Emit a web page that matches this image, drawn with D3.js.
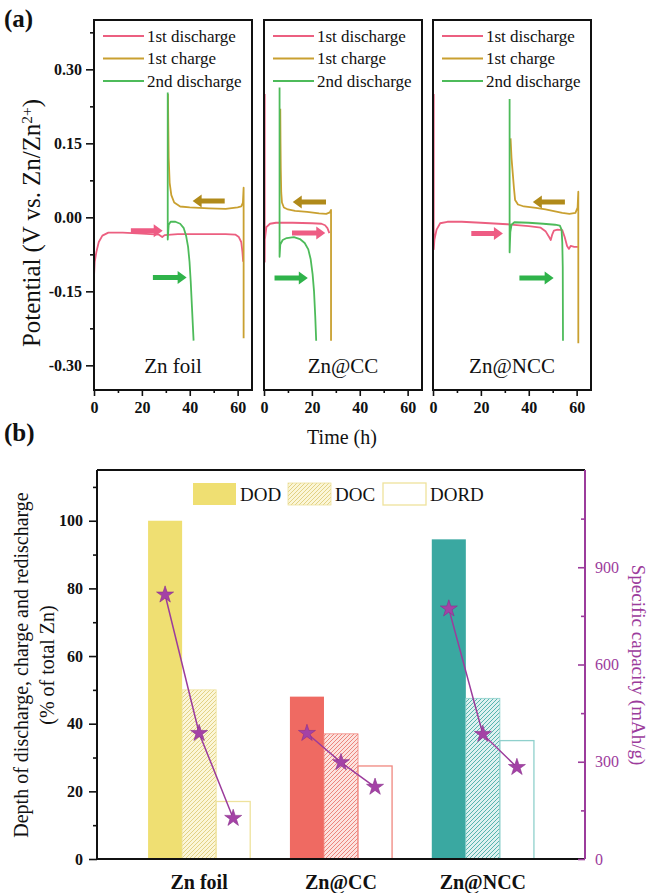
<!DOCTYPE html>
<html>
<head>
<meta charset="utf-8">
<script src="https://cdn.jsdelivr.net/npm/d3@7"></script>
<style>
  body { margin: 0; background: #fff; }
  svg { display: block; }
  text { font-family: "Liberation Serif", "Times New Roman", serif; fill: #111; }
</style>
</head>
<body>
<svg id="chart" width="650" height="893"></svg>
<script>
// ---------- panel (a) data : time (h), potential (V) ----------
const cells = ["Zn foil", "Zn@CC", "Zn@NCC"];
const seriesNames = ["1st discharge", "1st charge", "2nd discharge"];

const firstDischarge = [
  [[0,0.25],[0,-0.12],[0.3,-0.09],[1,-0.07],[2,-0.05],[3.5,-0.037],[6,-0.031],[12,-0.031],[20,-0.033],[27,-0.035],
   [28.5,-0.04],[29.5,-0.036],[35,-0.034],[45,-0.034],[55,-0.034],[59,-0.035],[60.5,-0.04],[61.5,-0.05],[62,-0.07],[62.3,-0.09]],
  [[0.3,0.25],[0.3,-0.09],[0.35,-0.045],[1,-0.02],[2.5,-0.013],[5,-0.011],[12,-0.011],[20,-0.012],[24,-0.013],
   [25.5,-0.016],[26.5,-0.022],[27.3,-0.032]],
  [[0.3,0.25],[0.3,-0.065],[0.6,-0.045],[1.5,-0.025],[3,-0.012],[6,-0.009],[12,-0.009],[20,-0.011],[31,-0.014],[40,-0.018],
   [45,-0.021],[47,-0.028],[48.5,-0.04],[49.2,-0.046],[49.8,-0.035],[50.5,-0.027],[52,-0.025],[54,-0.026],[55,-0.04],
   [56,-0.058],[56.8,-0.064],[57.5,-0.058],[59,-0.06],[60.5,-0.06]]
];

const firstCharge = [
  [[62.5,-0.245],[62.5,0.06],[62.2,0.03],[61.5,0.022],[60,0.02],[55,0.017],[48,0.018],[40,0.02],[36,0.022],[33.5,0.03],
   [32.3,0.045],[31.6,0.07],[31.2,0.12],[31,0.2],[30.9,0.25]],
  [[28,-0.25],[28,0.015],[27.5,0.01],[26,0.007],[23,0.008],[18,0.011],[13,0.013],[10,0.016],[8.3,0.02],[7.5,0.03],
   [7.2,0.05],[7,0.1],[6.9,0.15],[6.8,0.22]],
  [[60.7,-0.255],[60.7,0.052],[60.4,0.02],[59.5,0.009],[57,0.007],[54,0.009],[51,0.012],[47,0.016],[43,0.019],[38,0.022],
   [35.5,0.026],[34.3,0.035],[33.8,0.06],[33.3,0.09],[32.8,0.12],[32.4,0.16]]
];

const secondDischarge = [
  [[30.8,0.253],[30.8,-0.045],[31.2,-0.015],[32,-0.009],[34,-0.009],[36,-0.013],[37.5,-0.022],[38.5,-0.038],[39.3,-0.06],
   [39.9,-0.09],[40.4,-0.13],[40.9,-0.18],[41.3,-0.22],[41.6,-0.25]],
  [[6.5,0.263],[6.5,-0.08],[6.8,-0.055],[7.8,-0.046],[9.5,-0.042],[12.5,-0.04],[15,-0.044],[17,-0.052],[18.5,-0.065],
   [19.5,-0.085],[20.3,-0.115],[20.9,-0.15],[21.4,-0.2],[21.8,-0.25]],
  [[32,0.24],[32,-0.071],[32.3,-0.03],[32.8,-0.015],[34,-0.01],[40,-0.011],[46,-0.013],[51,-0.015],[53,-0.017],
   [53.7,-0.025],[54,-0.05],[54.2,-0.1],[54.3,-0.25]]
];

// arrows: [from t, to t, potential] for discharge / charge / 2nd discharge
const arrowsA = [
  [[15.4,28.7,-0.027],[54.6,41.2,0.033],[24.6,38.7,-0.122]],
  [[11.7,25.6,-0.032],[25.9,12,0.031],[4.4,18.3,-0.123]],
  [[16,29.2,-0.033],[55.1,41.7,0.031],[36.1,50.4,-0.123]]
];

const timeTicks = [0, 20, 40, 60];
const timeMinor = [10, 30, 50];
const potTicks = [-0.3, -0.15, 0, 0.15, 0.3];
const potMinor = [-0.225, -0.075, 0.075, 0.225, 0.375];

// ---------- panel (b) data ----------
const materials = ["Zn foil", "Zn@CC", "Zn@NCC"];
const metrics = ["DOD", "DOC", "DORD"];
const dod = [100, 48, 94.5];
const doc = [50, 37, 47.5];
const dord = [17, 27.5, 35];
const capacity = [[815, 388, 126], [388, 298, 222], [772, 385, 283]];
const depthTicks = [0, 20, 40, 60, 80, 100];
const depthMinor = [10, 30, 50, 70, 90, 110];
const capTicks = [0, 300, 600, 900];
const capMinor = [150, 450, 750, 1050];

const lineColors = ["#ec5f80", "#c9a030", "#4dbb5a"];
const arrowColors = ["#ee5c84", "#b08a1a", "#2fb34a"];
const matColors = [
  {solid: "#efdf72", bg: "#fbf6d8", hatch: "#e2d184", border: "#eee29c"},
  {solid: "#ef6a62", bg: "#fce3df", hatch: "#ec857c", border: "#f0877f"},
  {solid: "#3aa8a1", bg: "#dff1f0", hatch: "#56b4ae", border: "#8fd0cc"}
];
const purple = "#9c3c9c";
const serif = "'Liberation Serif', 'Times New Roman', serif";

const svg = d3.select("#chart");
const defs = svg.append("defs");

matColors.forEach((c, i) => {
  const p = defs.append("pattern").attr("id", "hatch" + i)
    .attr("patternUnits", "userSpaceOnUse").attr("width", 4).attr("height", 4);
  p.append("rect").attr("width", 4).attr("height", 4).attr("fill", c.bg);
  p.append("path").attr("d", "M0,4 L4,0 M-1,1 L1,-1 M3,5 L5,3")
    .attr("stroke", c.hatch).attr("stroke-width", 1);
});

// ================= panel (a) =================
const cellLeft = [94, 264, 433];
const cellW = 158;
const aTop = 20, aBottom = 390;
const y = d3.scaleLinear().domain([-0.35, 0.40]).range([aBottom, aTop]);
const line = d3.line();

cells.forEach((name, i) => {
  const x = d3.scaleLinear().domain([0, 66]).range([cellLeft[i], cellLeft[i] + cellW]);
  const g = svg.append("g");
  const lineFn = d3.line().x(d => x(d[0])).y(d => y(d[1]));

  // curves
  [firstDischarge[i], firstCharge[i], secondDischarge[i]].forEach((pts, k) => {
    g.append("path").attr("d", lineFn(pts)).attr("fill", "none")
      .attr("stroke", lineColors[k]).attr("stroke-width", 1.8).attr("stroke-linejoin", "round");
  });

  // arrows
  arrowsA[i].forEach((a, k) => {
    const x1 = x(a[0]), x2 = x(a[1]), yy = y(a[2]);
    const dir = x2 > x1 ? 1 : -1;
    const hx = x2 - dir * 9;
    const d = `M${x1},${yy - 2.5}L${hx},${yy - 2.5}L${hx},${yy - 6.5}L${x2},${yy}L${hx},${yy + 6.5}L${hx},${yy + 2.5}L${x1},${yy + 2.5}Z`;
    g.append("path").attr("d", d).attr("fill", arrowColors[k]);
  });

  // frame
  g.append("rect").attr("x", x(0)).attr("y", aTop).attr("width", cellW).attr("height", aBottom - aTop)
    .attr("fill", "none").attr("stroke", "#111").attr("stroke-width", 2);

  // x axis
  g.append("g").attr("transform", `translate(0,${aBottom})`)
    .call(d3.axisBottom(x).tickValues(timeTicks).tickSize(6).tickPadding(6).tickFormat(d3.format("d")));
  g.append("g").attr("transform", `translate(0,${aBottom})`)
    .call(d3.axisBottom(x).tickValues(timeMinor).tickSize(3).tickFormat(""));

  if (i === 0) {
    g.append("g").attr("transform", `translate(${x(0)},0)`)
      .call(d3.axisLeft(y).tickValues(potTicks).tickSize(8).tickPadding(4).tickFormat(d => d.toFixed(2)));
    g.append("g").attr("transform", `translate(${x(0)},0)`)
      .call(d3.axisLeft(y).tickValues(potMinor).tickSize(4).tickFormat(""));
  }

  // legend
  seriesNames.forEach((s, k) => {
    const ly = 36 + k * 22.5;
    g.append("line").attr("x1", x(0) + 9).attr("x2", x(0) + 50).attr("y1", ly).attr("y2", ly)
      .attr("stroke", lineColors[k]).attr("stroke-width", 2);
    g.append("text").attr("x", x(0) + 53).attr("y", ly + 5.5).attr("font-size", 17).text(s);
  });

  // sample label
  g.append("text").attr("x", x(0) + cellW / 2).attr("y", 373).attr("text-anchor", "middle")
    .attr("font-size", 21).text(name);
});

svg.selectAll(".domain").remove();
svg.selectAll(".tick line").attr("stroke", "#111").attr("stroke-width", 1.6);
svg.selectAll(".tick text").attr("font-size", 16).attr("font-weight", "bold")
  .attr("font-family", serif).attr("fill", "#111");

// y label (a): fitted to the span the reference shows
const yl = svg.append("text").attr("transform", "translate(40,347) rotate(-90)")
  .attr("text-anchor", "start").attr("font-size", 21);
yl.append("tspan").text("Potential (V vs. Zn/Zn");
const sup = yl.append("tspan").attr("dy", -8).attr("font-size", 13).text("2+");
yl.append("tspan").attr("dy", 8).text(")");
const ylLen = yl.node().getComputedTextLength();
if (ylLen > 0) {
  const fs = 21 * 248 / ylLen;
  yl.attr("font-size", fs);
  sup.attr("font-size", fs * 0.62);
}

svg.append("text").attr("x", 342).attr("y", 444).attr("text-anchor", "middle")
  .attr("font-size", 20).text("Time (h)");

svg.append("text").attr("x", 4).attr("y", 27).attr("font-size", 25).attr("font-weight", "bold").text("(a)");
svg.append("text").attr("x", 4).attr("y", 441).attr("font-size", 25).attr("font-weight", "bold").text("(b)");

// ================= panel (b) =================
const bLeft = 97, bRight = 585, bTop = 470, bBottom = 859;
const x0 = d3.scaleBand().domain(materials).range([bLeft, bRight]).paddingInner(0.28).paddingOuter(0.36);
const x1 = d3.scaleBand().domain(metrics).range([0, x0.bandwidth()]);
const yL = d3.scaleLinear().domain([0, 115]).range([bBottom, bTop]);
const yR = d3.scaleLinear().domain([0, 1200]).range([bBottom, bTop]);
const gb = svg.append("g");

const valuesBy = [dod, doc, dord];
materials.forEach((m, i) => {
  metrics.forEach((k, j) => {
    const v = valuesBy[j][i];
    const r = gb.append("rect")
      .attr("x", x0(m) + x1(k)).attr("width", x1.bandwidth())
      .attr("y", yL(v)).attr("height", yL(0) - yL(v));
    if (j === 0) r.attr("fill", matColors[i].solid);
    else if (j === 1) r.attr("fill", `url(#hatch${i})`).attr("stroke", matColors[i].border).attr("stroke-width", 0.8);
    else r.attr("fill", "#fff").attr("stroke", matColors[i].border).attr("stroke-width", 1.3);
  });
});

// capacity lines + stars
const star = d3.symbol().type(d3.symbolStar).size(90);
materials.forEach((m, i) => {
  const pts = metrics.map((k, j) => [x0(m) + x1(k) + x1.bandwidth() / 2, yR(capacity[i][j])]);
  gb.append("path").attr("d", line(pts)).attr("fill", "none").attr("stroke", purple).attr("stroke-width", 1.5);
  pts.forEach(p => {
    gb.append("path").attr("d", star()).attr("transform", `translate(${p[0]},${p[1]})`)
      .attr("fill", "#a442a6").attr("stroke", "#8a2f8c").attr("stroke-width", 0.6);
  });
});

// frame
gb.append("line").attr("x1", bLeft).attr("x2", bRight).attr("y1", bTop).attr("y2", bTop).attr("stroke", "#111").attr("stroke-width", 2);
gb.append("line").attr("x1", bLeft).attr("x2", bRight).attr("y1", bBottom).attr("y2", bBottom).attr("stroke", "#111").attr("stroke-width", 2);
gb.append("line").attr("x1", bLeft).attr("x2", bLeft).attr("y1", bTop).attr("y2", bBottom).attr("stroke", "#111").attr("stroke-width", 2);
gb.append("line").attr("x1", bRight).attr("x2", bRight).attr("y1", bTop).attr("y2", bBottom).attr("stroke", purple).attr("stroke-width", 2);

const axL = gb.append("g").attr("transform", `translate(${bLeft},0)`)
  .call(d3.axisLeft(yL).tickValues(depthTicks).tickSize(8).tickPadding(6).tickFormat(d3.format("d")));
const axLm = gb.append("g").attr("transform", `translate(${bLeft},0)`)
  .call(d3.axisLeft(yL).tickValues(depthMinor.filter(v => v < 115)).tickSize(4).tickFormat(""));
[axL, axLm].forEach(a => {
  a.select(".domain").remove();
  a.selectAll(".tick line").attr("stroke", "#111").attr("stroke-width", 1.6);
  a.selectAll(".tick text").attr("font-size", 16).attr("font-weight", "bold").attr("fill", "#111")
    .attr("font-family", serif);
});

const axR = gb.append("g").attr("transform", `translate(${bRight},0)`)
  .call(d3.axisRight(yR).tickValues(capTicks).tickSize(-7).tickPadding(10).tickFormat(d3.format("d")));
const axRm = gb.append("g").attr("transform", `translate(${bRight},0)`)
  .call(d3.axisRight(yR).tickValues(capMinor).tickSize(-4).tickFormat(""));
[axR, axRm].forEach(a => {
  a.select(".domain").remove();
  a.selectAll(".tick line").attr("stroke", purple).attr("stroke-width", 1.6);
  a.selectAll(".tick text").attr("font-size", 16).attr("fill", purple).style("fill", purple)
    .attr("font-family", serif);
});

// category labels
materials.forEach(m => {
  gb.append("text").attr("x", x0(m) + x0.bandwidth() / 2).attr("y", 889).attr("text-anchor", "middle")
    .attr("font-size", 20).attr("font-weight", "bold").text(m);
});

// legend
const legX = [193, 288, 383];
metrics.forEach((k, j) => {
  const r = gb.append("rect").attr("x", legX[j]).attr("y", 483).attr("width", 43).attr("height", 22);
  if (j === 0) r.attr("fill", matColors[0].solid);
  else if (j === 1) r.attr("fill", "url(#hatch0)").attr("stroke", matColors[0].border).attr("stroke-width", 0.8);
  else r.attr("fill", "#fff").attr("stroke", matColors[0].border).attr("stroke-width", 1.3);
  gb.append("text").attr("x", legX[j] + 47).attr("y", 501).attr("font-size", 19).text(k);
});

// axis titles (b)
const bt = gb.append("text").attr("transform", "translate(28,665) rotate(-90)")
  .attr("text-anchor", "middle").attr("font-size", 20);
bt.append("tspan").attr("x", 0).attr("dy", 0).text("Depth of discharge, charge and redischarge");
bt.append("tspan").attr("x", 0).attr("dy", 26).text("(% of total Zn)");

gb.append("text").attr("transform", "translate(632,665) rotate(90)")
  .attr("text-anchor", "middle").attr("font-size", 19)
  .style("fill", purple).text("Specific capacity (mAh/g)");
</script>
</body>
</html>
